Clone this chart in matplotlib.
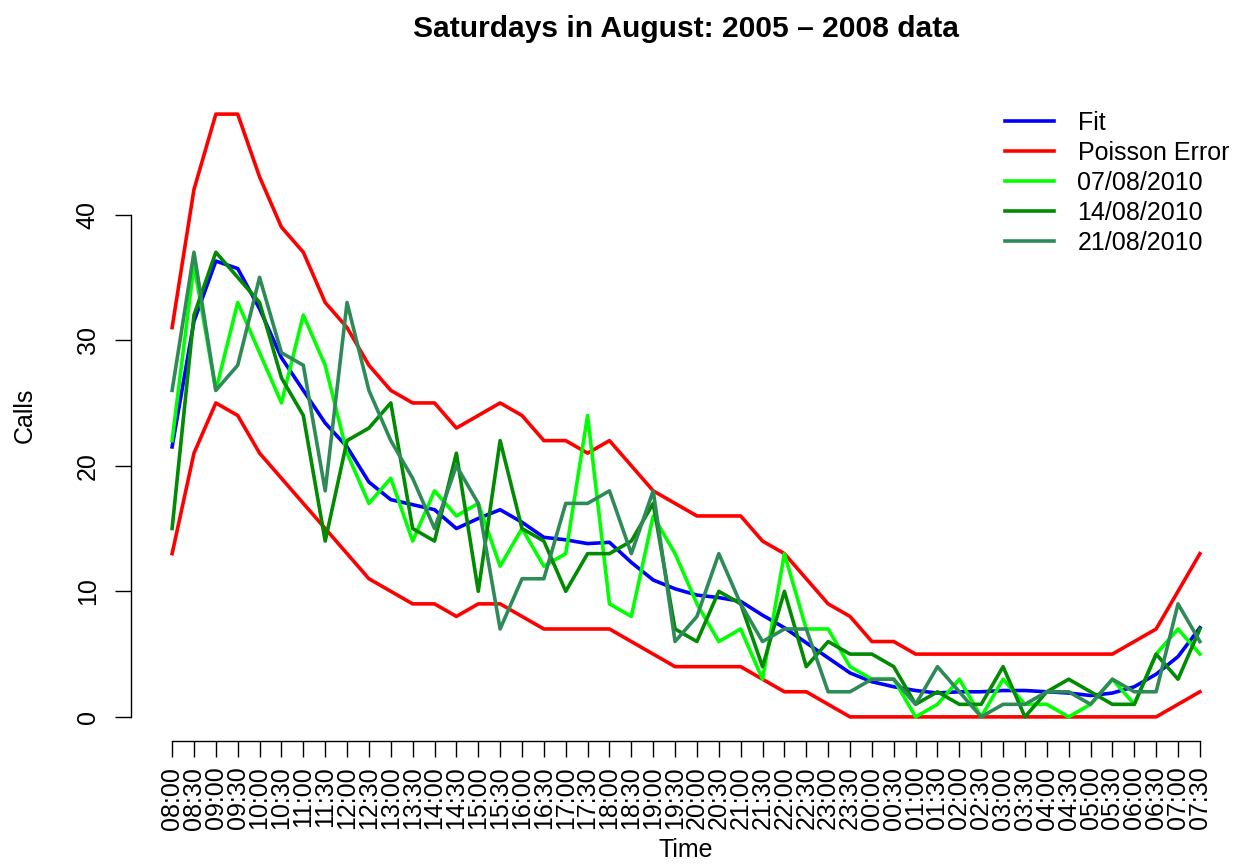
import matplotlib
matplotlib.use("Agg")
import matplotlib.pyplot as plt

plt.rcParams['font.family'] = ['Liberation Sans', 'DejaVu Sans']

# half-hour slots from 08:00 through to 07:30 the next morning
times = ['08:00', '08:30', '09:00', '09:30', '10:00', '10:30', '11:00', '11:30',
         '12:00', '12:30', '13:00', '13:30', '14:00', '14:30', '15:00', '15:30',
         '16:00', '16:30', '17:00', '17:30', '18:00', '18:30', '19:00', '19:30',
         '20:00', '20:30', '21:00', '21:30', '22:00', '22:30', '23:00', '23:30',
         '00:00', '00:30', '01:00', '01:30', '02:00', '02:30', '03:00', '03:30',
         '04:00', '04:30', '05:00', '05:30', '06:00', '06:30', '07:00', '07:30']

fit = [21.5, 31.5, 36.3, 35.7, 32.5, 28.6, 26.0, 23.4, 21.5, 18.7, 17.3, 16.9,
       16.5, 15.0, 15.8, 16.5, 15.5, 14.3, 14.1, 13.8, 13.9, 12.3, 10.9, 10.2,
       9.7, 9.5, 9.2, 8.1, 7.1, 5.9, 4.7, 3.5, 2.8, 2.4, 2.1, 1.9, 2.0, 2.0,
       2.1, 2.1, 2.0, 1.9, 1.7, 1.9, 2.4, 3.4, 4.8, 7.1]

upper = [31, 42, 48, 48, 43, 39, 37, 33, 31, 28, 26, 25, 25, 23, 24, 25,
         24, 22, 22, 21, 22, 20, 18, 17, 16, 16, 16, 14, 13, 11, 9, 8,
         6, 6, 5, 5, 5, 5, 5, 5, 5, 5, 5, 5, 6, 7, 10, 13]

lower = [13, 21, 25, 24, 21, 19, 17, 15, 13, 11, 10, 9, 9, 8, 9, 9,
         8, 7, 7, 7, 7, 6, 5, 4, 4, 4, 4, 3, 2, 2, 1, 0,
         0, 0, 0, 0, 0, 0, 0, 0, 0, 0, 0, 0, 0, 0, 1, 2]

aug07 = [22, 36, 26, 33, 29, 25, 32, 28, 21, 17, 19, 14, 18, 16, 17, 12,
         15, 12, 13, 24, 9, 8, 16, 13, 9, 6, 7, 3, 13, 7, 7, 4,
         3, 3, 0, 1, 3, 0, 3, 1, 1, 0, 1, 3, 1, 5, 7, 5]

aug14 = [15, 32, 37, 35, 33, 27, 24, 14, 22, 23, 25, 15, 14, 21, 10, 22,
         15, 14, 10, 13, 13, 14, 17, 7, 6, 10, 9, 4, 10, 4, 6, 5,
         5, 4, 1, 2, 1, 1, 4, 0, 2, 3, 2, 1, 1, 5, 3, 7]

aug21 = [26, 37, 26, 28, 35, 29, 28, 18, 33, 26, 22, 19, 15, 20, 17, 7,
         11, 11, 17, 17, 18, 13, 18, 6, 8, 13, 9, 6, 7, 7, 2, 2,
         3, 3, 1, 4, 2, 0, 1, 1, 2, 2, 1, 3, 2, 2, 9, 6]

x = list(range(len(times)))

fig = plt.figure(figsize=(12.42, 8.67), dpi=100)
ax = fig.add_axes([131 / 1242, 1 - 741 / 867, 1110 / 1242, 651 / 867])

lw = 2.6
ax.plot(x, fit, color='#0000FF', lw=lw, label='Fit')
ax.plot(x, upper, color='#FF0000', lw=lw, label='Poisson Error')
ax.plot(x, lower, color='#FF0000', lw=lw)
ax.plot(x, aug07, color='#00FF00', lw=lw, label='07/08/2010')
ax.plot(x, aug14, color='#008B00', lw=lw, label='14/08/2010')
ax.plot(x, aug21, color='#2E8B57', lw=lw, label='21/08/2010')

ax.set_xlim(-1.88, 48.88)
ax.set_ylim(-1.92, 49.92)

for side in ['top', 'right']:
    ax.spines[side].set_visible(False)
ax.spines['left'].set_bounds(0, 40)
ax.spines['bottom'].set_bounds(0, 47)
for side in ['left', 'bottom']:
    ax.spines[side].set_linewidth(1.0)

ax.set_yticks([0, 10, 20, 30, 40])
ax.set_yticklabels(['0', '10', '20', '30', '40'], rotation=90, va='center')
ax.set_xticks(x)
ax.set_xticklabels(times, rotation=90)
ax.tick_params(axis='both', length=11.5, width=1.0, labelsize=18)
ax.tick_params(axis='y', pad=11)
ax.tick_params(axis='x', pad=7)

fig.text(686 / 1242, 1 - 850 / 867, 'Time', ha='center', va='center', fontsize=18)
fig.text(25 / 1242, 1 - 415 / 867, 'Calls', ha='center', va='center',
         rotation=90, fontsize=18)
fig.text(686 / 1242, 1 - 29 / 867, 'Saturdays in August: 2005 \u2013 2008 data',
         ha='center', va='center', fontsize=21.6, fontweight='bold')

ax.legend(loc='upper left', bbox_to_anchor=(1005 / 1242, 1 - 111 / 867),
          bbox_transform=fig.transFigure, frameon=False, fontsize=18,
          handlelength=1.95, handletextpad=0.95, labelspacing=0.24,
          borderaxespad=0, borderpad=0)

fig.savefig('out.png', dpi=100)
